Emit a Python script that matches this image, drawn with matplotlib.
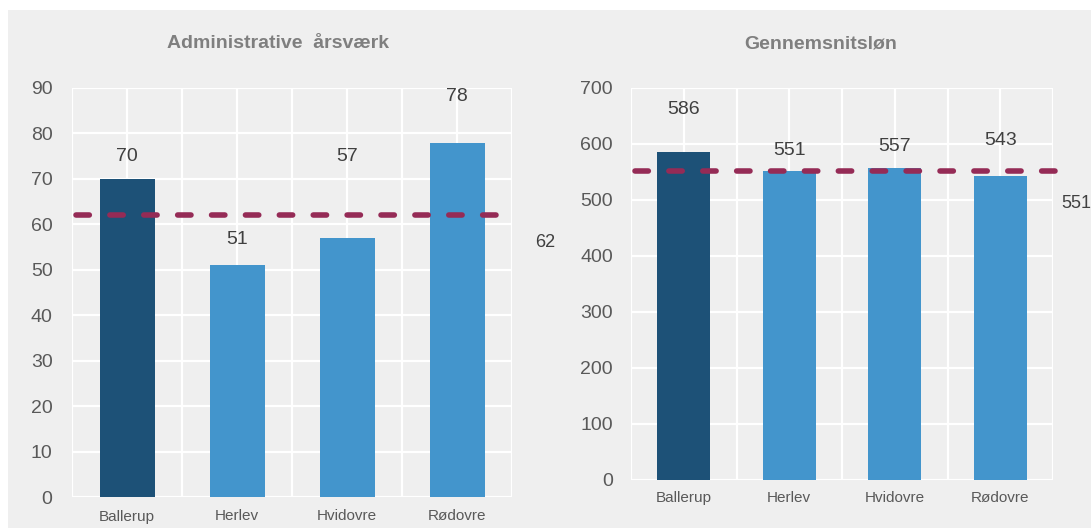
import matplotlib.pyplot as plt
from matplotlib.patches import Rectangle

plt.rcParams['font.family'] = ['Liberation Sans', 'DejaVu Sans']

kommuner = ["Ballerup", "Herlev", "Hvidovre", "Rødovre"]
aarsvaerk = [70, 51, 57, 78]
aarsvaerk_snit = 62
loen = [586, 551, 557, 543]
loen_snit = 551

dark = "#1d5177"
light = "#4395cc"
avg_col = "#952b56"
bg = "#efefef"
tick_col = "#595959"
lbl_col = "#404040"
title_col = "#7f7f7f"

fig = plt.figure(figsize=(10.91, 5.31), dpi=100)
fig.patches.append(Rectangle((8 / 1091, 3 / 531), 1 - 8 / 1091, 518 / 531,
                             transform=fig.transFigure, facecolor=bg,
                             edgecolor="none", zorder=-10))

ax1 = fig.add_axes([72 / 1091, 34 / 531, 440 / 1091, 409 / 531])
ax2 = fig.add_axes([631 / 1091, 51 / 531, 422 / 1091, 392 / 531])


def style(ax, ymax, step, xpad, ypad):
    ax.set_facecolor(bg)
    for s in ax.spines.values():
        s.set_visible(False)
    ax.set_xlim(-0.5, 3.5)
    ax.set_ylim(0, ymax)
    ax.set_yticks(range(0, ymax + 1, step))
    ax.set_xticks(range(4))
    ax.set_xticks([-0.5, 0.5, 1.5, 2.5, 3.5], minor=True)
    ax.set_xticklabels(kommuner)
    ax.tick_params(axis="y", length=0, pad=ypad, labelsize=14, labelcolor=tick_col)
    ax.tick_params(axis="x", which="both", length=0, pad=xpad, labelsize=11,
                   labelcolor=tick_col)
    ax.grid(True, which="both", color="white", lw=1.6)
    ax.set_axisbelow(True)


style(ax1, 90, 10, 9, 14)
style(ax2, 700, 100, 8, 13)

cols = [dark, light, light, light]
ax1.bar(range(4), aarsvaerk, width=0.5, color=cols, zorder=2)
ax2.bar(range(4), loen, width=0.5, color=cols, zorder=2)

# data labels sit where the spreadsheet put them, not always right on top
lbl_y1 = [74.9, 56.6, 74.9, 88.1]
lbl_y2 = [661, 589, 596, 607]
for i, v in enumerate(aarsvaerk):
    ax1.text(i, lbl_y1[i], str(v), ha="center", va="center", fontsize=14,
             color=lbl_col, clip_on=False)
for i, v in enumerate(loen):
    ax2.text(i, lbl_y2[i], str(v), ha="center", va="center", fontsize=14,
             color=lbl_col, clip_on=False)

dash = dict(ls=(0, (2.4, 3.7)), lw=4, color=avg_col, clip_on=False,
            zorder=3, dash_capstyle="round")
ax1.plot([-0.46, 3.48], [aarsvaerk_snit] * 2, **dash)
ax2.plot([-0.46, 3.71], [loen_snit] * 2, **dash)
ax1.text(3.8, 55.9, str(aarsvaerk_snit), ha="center", va="center",
         fontsize=13, color=lbl_col, clip_on=False)
ax2.text(3.72, 494, str(loen_snit), ha="center", va="center",
         fontsize=13, color=lbl_col, clip_on=False)

fig.text(278 / 1091, 1 - 44 / 531, "Administrative  årsværk", ha="center",
         va="center", fontsize=14, fontweight="bold", color=title_col)
fig.text(821 / 1091, 1 - 44 / 531, "Gennemsnitsløn", ha="center",
         va="center", fontsize=14, fontweight="bold", color=title_col)

fig.savefig("out.png", dpi=100)
